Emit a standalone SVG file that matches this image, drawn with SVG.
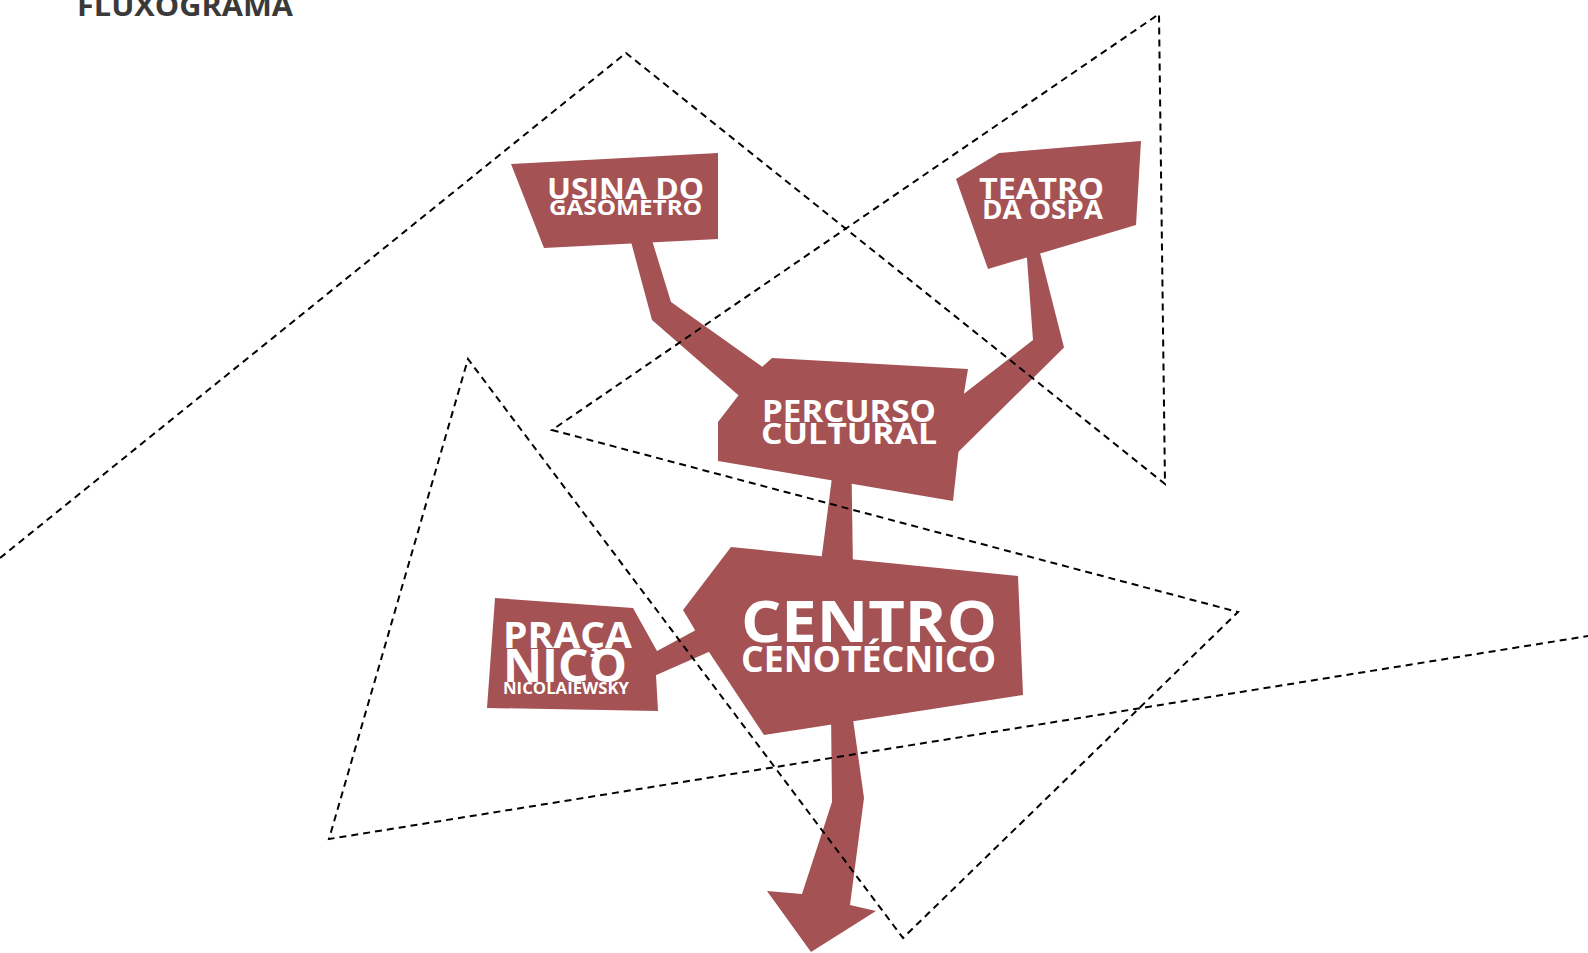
<svg xmlns="http://www.w3.org/2000/svg" width="1588" height="953" viewBox="0 0 1588 953">
  <style>
    .shape { fill: #a45254; stroke: none; }
    .label { fill: #ffffff; font-family: "Open Sans", "Liberation Sans", sans-serif; font-weight: 700; }
    .title { fill: #3a3a3a; font-family: "Open Sans", "Liberation Sans", sans-serif; font-weight: 700; }
    .guide { fill: none; stroke: #000000; stroke-width: 2; stroke-dasharray: 7 5; stroke-linejoin: miter; }
  </style>

  <rect x="0" y="0" width="1588" height="953" fill="#ffffff"/>

  <text class="title" x="77" y="16" font-size="29" textLength="216" lengthAdjust="spacingAndGlyphs">FLUXOGRAMA</text>

  <!-- arms linking the nodes -->
  <g id="connectors">
    <polygon class="shape" points="630,238 651,237 671,302 785,383 760,414 652,320"/>
    <polygon class="shape" points="1026,245 1038,245 1064,347.5 945,465 945,408.5 1033,340"/>
    <polygon class="shape" points="833,470 851.5,470 853,570 820,570"/>
    <polygon class="shape" points="645,657.5 720,617 720,647 645,680"/>
    <polygon class="shape" points="831,712 852,712 864,798 850,905 876,911 811,952 767,891 802,894 832,802"/>
  </g>

  <g id="usina">
    <polygon class="shape" points="511,164 718,153 718,239 544,248"/>
    <text class="label" x="547" y="199" font-size="29" textLength="157" lengthAdjust="spacingAndGlyphs">USINA DO</text>
    <text class="label" x="549" y="215" font-size="21" textLength="153" lengthAdjust="spacingAndGlyphs">GASÔMETRO</text>
  </g>

  <g id="teatro">
    <polygon class="shape" points="956,179 999,153 1141,141 1136,225 988,269"/>
    <text class="label" x="979" y="199" font-size="29" textLength="125" lengthAdjust="spacingAndGlyphs">TEATRO</text>
    <text class="label" x="982" y="219" font-size="27" textLength="121" lengthAdjust="spacingAndGlyphs">DA OSPA</text>
  </g>

  <g id="percurso">
    <polygon class="shape" points="772,358 968,369 964,393 959,447 953,501 718,461 718,422 738,396 762,367"/>
    <text class="label" x="762" y="422" font-size="31" textLength="174" lengthAdjust="spacingAndGlyphs">PERCURSO</text>
    <text class="label" x="761" y="444" font-size="29" textLength="176" lengthAdjust="spacingAndGlyphs">CULTURAL</text>
  </g>

  <g id="centro">
    <polygon class="shape" points="731,547 1018,576 1023,695 764,735 709,652 695,630 683,610"/>
    <text class="label" x="741" y="642" font-size="57" textLength="256" lengthAdjust="spacingAndGlyphs">CENTRO</text>
    <text class="label" x="741" y="672" font-size="35" textLength="255" lengthAdjust="spacingAndGlyphs">CENOTÉCNICO</text>
  </g>

  <g id="praca">
    <polygon class="shape" points="495,598 633,608 657,651 656,675 658,711 487,708"/>
    <text class="label" x="503" y="648" font-size="35" textLength="129" lengthAdjust="spacingAndGlyphs">PRAÇA</text>
    <text class="label" x="503" y="682" font-size="46" textLength="124" lengthAdjust="spacingAndGlyphs">NICO</text>
    <text class="label" x="503" y="694" font-size="15.5" textLength="126" lengthAdjust="spacingAndGlyphs">NICOLAIEWSKY</text>
  </g>

  <!-- dashed zigzag guide line -->
  <polyline id="guide" class="guide" points="0,558 626,53 1165,484 1159,14 552,430 1238,612 903,938 468,359 329,839 1588,636"/>
</svg>
